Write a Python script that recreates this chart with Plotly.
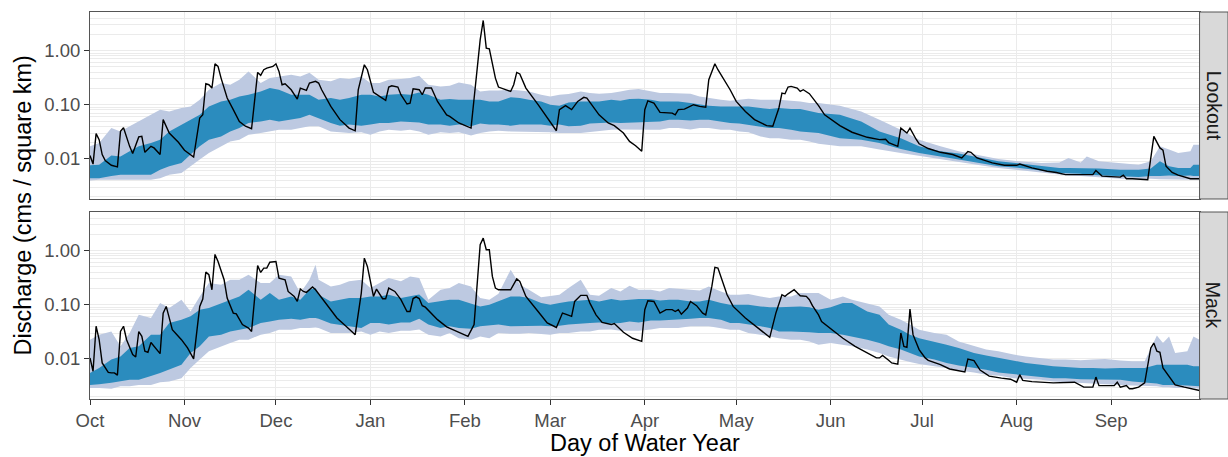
import pandas as pd
import plotly.graph_objects as go

WY_START = pd.Timestamp("2018-10-01")

# ---------------- Lookout ----------------
lookout_band_day = [0, 3, 7, 10, 13, 16, 20, 23, 26, 30, 33, 36, 39, 43, 46, 49, 52, 56, 59, 62, 66, 69, 72, 75, 79, 82, 85, 89, 92, 95, 98, 102, 105, 108,
                    111, 115, 118, 121, 125, 128, 131, 134, 138, 141, 144, 148, 151, 154, 157, 161, 164, 167, 171, 174, 177, 180, 184, 187, 190, 193, 197, 200, 203, 207, 210, 213, 216, 220, 223, 226, 230, 233, 236, 239,
                    246, 253, 259, 266, 272, 279, 285, 292, 298, 305, 312, 318, 321, 325, 327, 331, 338, 344, 348, 351, 354, 357, 361, 362, 364]
lookout_light_hi = [0.0170, 0.0196, 0.037, 0.032, 0.040, 0.049, 0.065, 0.081, 0.075, 0.087, 0.093, 0.124, 0.189, 0.251, 0.234, 0.289, 0.412, 0.251, 0.31, 0.333, 0.358, 0.333, 0.39, 0.289, 0.27, 0.31, 0.30, 0.333, 0.251, 0.251, 0.289, 0.30, 0.31, 0.343,
                    0.234, 0.218, 0.224, 0.257, 0.234, 0.176, 0.184, 0.184, 0.189, 0.184, 0.176, 0.153, 0.1425, 0.153, 0.157, 0.176, 0.164, 0.159, 0.164, 0.176, 0.189, 0.195, 0.176, 0.164, 0.164, 0.164, 0.159, 0.1425, 0.133, 0.124, 0.118, 0.124, 0.129, 0.124, 0.124, 0.124, 0.118, 0.115, 0.107, 0.107,
                    0.096, 0.075, 0.053, 0.0346, 0.0226, 0.017, 0.0138, 0.0115, 0.0099, 0.009, 0.0084, 0.0086, 0.0104, 0.0086, 0.0111, 0.009, 0.0084, 0.0078, 0.009, 0.017, 0.0148, 0.0128, 0.0138, 0.0183, 0.0183]
lookout_dark_hi = [0.0076, 0.0078, 0.0115, 0.0111, 0.0138, 0.017, 0.0196, 0.0226, 0.032, 0.043, 0.053, 0.065, 0.093, 0.115, 0.124, 0.1425, 0.153, 0.176, 0.203, 0.189, 0.153, 0.153, 0.153, 0.124, 0.133, 0.124, 0.133, 0.153, 0.153, 0.1425, 0.153, 0.157, 0.153, 0.169,
                   0.153, 0.124, 0.127, 0.124, 0.124, 0.124, 0.115, 0.115, 0.137, 0.133, 0.124, 0.115, 0.10, 0.096, 0.11, 0.115, 0.115, 0.115, 0.124, 0.118, 0.127, 0.129, 0.124, 0.115, 0.115, 0.115, 0.107, 0.10, 0.096, 0.093, 0.093, 0.093, 0.093, 0.087, 0.083, 0.087, 0.083, 0.083, 0.075, 0.070,
                   0.065, 0.049, 0.032, 0.024, 0.017, 0.0138, 0.0126, 0.0104, 0.009, 0.0082, 0.0073, 0.0068, 0.0068, 0.0068, 0.0068, 0.0066, 0.0063, 0.0063, 0.0066, 0.009, 0.0073, 0.0068, 0.0068, 0.0078, 0.0078]
lookout_dark_lo = [0.0044, 0.0044, 0.0048, 0.0051, 0.0051, 0.0051, 0.0051, 0.0063, 0.0073, 0.0084, 0.012, 0.017, 0.0226, 0.026, 0.032, 0.037, 0.046, 0.049, 0.053, 0.049, 0.053, 0.057, 0.065, 0.057, 0.046, 0.041, 0.043, 0.041, 0.043, 0.046, 0.046, 0.049, 0.048, 0.047,
                   0.043, 0.043, 0.041, 0.043, 0.040, 0.045, 0.043, 0.043, 0.041, 0.043, 0.043, 0.043, 0.041, 0.043, 0.040, 0.041, 0.045, 0.046, 0.047, 0.046, 0.047, 0.047, 0.048, 0.049, 0.053, 0.053, 0.051, 0.053, 0.053, 0.049, 0.046, 0.045, 0.043, 0.039, 0.037, 0.037, 0.0346, 0.032, 0.031, 0.030,
                   0.024, 0.0226, 0.0196, 0.0152, 0.0128, 0.0111, 0.0097, 0.0082, 0.0073, 0.0068, 0.0061, 0.0055, 0.0055, 0.0053, 0.0051, 0.0049, 0.0048, 0.0046, 0.0048, 0.0048, 0.0049, 0.0048, 0.0049, 0.0048, 0.0048]
lookout_light_lo = [0.0040, 0.0041, 0.0042, 0.0041, 0.0042, 0.0041, 0.0041, 0.0044, 0.0051, 0.0055, 0.0073, 0.0097, 0.0128, 0.017, 0.021, 0.0226, 0.028, 0.030, 0.032, 0.0346, 0.0346, 0.037, 0.040, 0.040, 0.032, 0.031, 0.030, 0.031, 0.028, 0.032, 0.0346, 0.033, 0.0346, 0.032,
                    0.028, 0.031, 0.030, 0.031, 0.027, 0.030, 0.032, 0.033, 0.032, 0.031, 0.031, 0.031, 0.031, 0.030, 0.030, 0.030, 0.032, 0.033, 0.0346, 0.035, 0.0346, 0.035, 0.0346, 0.0346, 0.037, 0.037, 0.035, 0.037, 0.037, 0.0346, 0.0346, 0.032, 0.031, 0.026, 0.024, 0.024, 0.0226, 0.0226, 0.021, 0.019,
                    0.017, 0.017, 0.0148, 0.0128, 0.0111, 0.0097, 0.0087, 0.0076, 0.0068, 0.0061, 0.0056, 0.0051, 0.0049, 0.0048, 0.0048, 0.0046, 0.0043, 0.0042, 0.0043, 0.0042, 0.0042, 0.0041, 0.0041, 0.0041, 0.0041]

lookout_line_day = [0, 1, 2, 3, 4, 5, 7, 9, 10, 11, 13, 14, 16, 17, 18, 20, 21, 23, 24, 26, 29, 31, 34, 36, 37, 38, 39, 40, 41, 42, 43, 45, 47, 49, 51, 53,
                    55, 56, 57, 58, 60, 61, 62, 63, 64, 66, 68, 69, 71, 72, 74, 75, 76, 79, 82, 85, 87, 88, 90, 91, 93, 94, 95, 97, 98, 99, 101, 102, 104, 105, 106, 108,
                    109, 110, 112, 114, 117, 118, 121, 125, 126, 128, 129, 130, 131, 133, 134, 138, 139, 140, 141, 143, 147, 150, 153, 154, 156, 158, 160, 162, 163, 167,
                    170, 172, 175, 177, 179, 181, 182, 183, 185, 187, 189, 191, 192, 193, 195, 198, 200, 202, 203, 205, 206, 210, 212, 215, 218, 222, 224, 226, 227, 228,
                    229, 230, 232, 233, 234, 236, 239, 241, 246, 250, 255, 259, 261, 262, 265, 266, 268, 269, 271, 272, 275, 279, 283, 286, 288, 289, 291, 296, 300, 304,
                    305, 309, 314, 317, 320, 329, 330, 332, 338, 339, 340, 342, 347, 348, 349, 351, 352, 353, 355, 357, 359, 361, 364]
lookout_line_q = [0.0115, 0.0080, 0.0292, 0.0226, 0.0120, 0.0093, 0.0076, 0.0071, 0.0322, 0.0375, 0.0170, 0.0125, 0.0254, 0.0261, 0.0132, 0.0170, 0.0159, 0.0120, 0.053, 0.030, 0.0202, 0.0144, 0.0108, 0.0568, 0.0654, 0.244, 0.234, 0.203, 0.57, 0.51, 0.31, 0.133, 0.081, 0.049, 0.040, 0.036,
                  0.395, 0.35, 0.443, 0.475, 0.51, 0.57, 0.412, 0.234, 0.244, 0.189, 0.127, 0.203, 0.184, 0.251, 0.27, 0.251, 0.189, 0.093, 0.053, 0.037, 0.033, 0.189, 0.547, 0.443, 0.169, 0.157, 0.1425, 0.12, 0.212, 0.224, 0.212, 0.153, 0.103, 0.107, 0.197, 0.189,
                  0.153, 0.203, 0.203, 0.115, 0.065, 0.061, 0.046, 0.037, 0.124, 1.58, 3.6, 1.11, 1.08, 0.31, 0.212, 0.176, 0.234, 0.395, 0.37, 0.203, 0.10, 0.057, 0.033, 0.081, 0.096, 0.081, 0.115, 0.137, 0.133, 0.065,
                  0.046, 0.041, 0.030, 0.021, 0.0175, 0.0138, 0.081, 0.118, 0.107, 0.072, 0.072, 0.070, 0.065, 0.081, 0.083, 0.10, 0.093, 0.090, 0.289, 0.57, 0.443, 0.189, 0.115, 0.075, 0.053, 0.041, 0.040, 0.087, 0.164, 0.159,
                  0.212, 0.218, 0.203, 0.176, 0.189, 0.16, 0.096, 0.065, 0.041, 0.031, 0.025, 0.0226, 0.023, 0.020, 0.017, 0.037, 0.030, 0.037, 0.023, 0.019, 0.0155, 0.0132, 0.012, 0.0104, 0.0136, 0.0132, 0.0104, 0.0084, 0.0076, 0.0076,
                  0.008, 0.0068, 0.0059, 0.0056, 0.0051, 0.0051, 0.0061, 0.0048, 0.0046, 0.005, 0.0043, 0.0043, 0.0041, 0.0111, 0.026, 0.0159, 0.0145, 0.0073, 0.0056, 0.005, 0.0046, 0.0043, 0.0043]

# ---------------- Mack ----------------
mack_band_day = [0, 3, 7, 10, 13, 16, 20, 23, 26, 30, 33, 36, 39, 43, 46, 49, 52, 56, 59, 62, 66, 69, 72, 74, 75, 79, 82, 85, 89, 92, 95, 98, 102, 105, 108,
                 111, 115, 118, 121, 125, 128, 131, 134, 138, 141, 144, 148, 151, 154, 157, 161, 164, 167, 171, 174, 177, 180, 184, 187, 190, 193, 197, 200, 203, 207, 210, 213, 216, 220, 223, 226, 230, 233, 236, 239,
                 243, 247, 250, 255, 259, 262, 266, 269, 272, 277, 281, 285, 290, 294, 298, 303, 307, 312, 316, 320, 325, 329, 333, 338, 342, 346, 350, 352, 354, 356, 360, 362, 364]
mack_light_hi = [0.0226, 0.028, 0.032, 0.017, 0.030, 0.065, 0.057, 0.107, 0.087, 0.124, 0.075, 0.1425, 0.251, 0.234, 0.289, 0.289, 0.358, 0.251, 0.251, 0.358, 0.333, 0.164, 0.289, 0.547, 0.289, 0.218, 0.234, 0.27, 0.289, 0.203, 0.251, 0.31, 0.27, 0.333, 0.31,
                 0.124, 0.189, 0.203, 0.251, 0.218, 0.133, 0.124, 0.159, 0.443, 0.234, 0.189, 0.137, 0.1425, 0.153, 0.203, 0.289, 0.153, 0.146, 0.203, 0.176, 0.224, 0.189, 0.189, 0.176, 0.203, 0.195, 0.189, 0.184, 0.218, 0.176, 0.153, 0.153, 0.157, 0.1425, 0.133, 0.1425, 0.1425, 0.164, 0.164, 0.164,
                 0.124, 0.1425, 0.124, 0.104, 0.093, 0.065, 0.053, 0.043, 0.0346, 0.030, 0.028, 0.021, 0.017, 0.0148, 0.0138, 0.012, 0.0111, 0.0104, 0.0097, 0.0097, 0.0094, 0.0097, 0.0099, 0.0093, 0.009, 0.009, 0.027, 0.0196, 0.026, 0.0128, 0.0138, 0.026, 0.0226]
mack_dark_hi = [0.0055, 0.0068, 0.0097, 0.0111, 0.0159, 0.017, 0.028, 0.028, 0.046, 0.053, 0.061, 0.081, 0.087, 0.107, 0.124, 0.1425, 0.189, 0.124, 0.164, 0.124, 0.1425, 0.124, 0.189, 0.203, 0.153, 0.115, 0.124, 0.133, 0.133, 0.1425, 0.1425, 0.153, 0.133, 0.1425, 0.155,
                0.107, 0.115, 0.124, 0.124, 0.107, 0.093, 0.10, 0.115, 0.1425, 0.1425, 0.133, 0.107, 0.10, 0.107, 0.115, 0.12, 0.124, 0.115, 0.127, 0.12, 0.124, 0.127, 0.127, 0.12, 0.124, 0.124, 0.115, 0.115, 0.124, 0.107, 0.10, 0.10, 0.10, 0.093, 0.09, 0.09, 0.093, 0.093, 0.09, 0.081,
                0.09, 0.107, 0.107, 0.075, 0.065, 0.043, 0.0346, 0.028, 0.024, 0.021, 0.0183, 0.0159, 0.0128, 0.0115, 0.0104, 0.009, 0.0084, 0.0078, 0.0073, 0.0071, 0.0068, 0.0068, 0.0066, 0.0068, 0.0068, 0.0068, 0.0078, 0.0078, 0.0078, 0.0078, 0.0078, 0.0073, 0.0073]
mack_dark_lo = [0.0033, 0.0034, 0.0036, 0.0038, 0.0041, 0.0041, 0.0048, 0.0055, 0.0063, 0.0078, 0.0128, 0.017, 0.026, 0.028, 0.032, 0.0346, 0.037, 0.046, 0.049, 0.053, 0.055, 0.053, 0.057, 0.057, 0.055, 0.045, 0.043, 0.040, 0.037, 0.046, 0.046, 0.043, 0.047, 0.047, 0.055,
                0.043, 0.037, 0.040, 0.037, 0.036, 0.040, 0.041, 0.043, 0.040, 0.041, 0.041, 0.041, 0.040, 0.041, 0.043, 0.045, 0.046, 0.047, 0.045, 0.046, 0.049, 0.047, 0.051, 0.051, 0.053, 0.053, 0.055, 0.057, 0.057, 0.053, 0.046, 0.046, 0.043, 0.040, 0.037, 0.032, 0.032, 0.032, 0.031, 0.030,
                0.030, 0.028, 0.026, 0.0226, 0.0196, 0.017, 0.0148, 0.0128, 0.0111, 0.0097, 0.0084, 0.0075, 0.0068, 0.0063, 0.0056, 0.0053, 0.0049, 0.0046, 0.0044, 0.0044, 0.0042, 0.0042, 0.0041, 0.0041, 0.0038, 0.0036, 0.0035, 0.0033, 0.0033, 0.0033, 0.0032, 0.0031, 0.0031]
mack_light_lo = [0.0029, 0.0029, 0.0028, 0.0031, 0.0031, 0.0033, 0.0033, 0.0037, 0.0038, 0.0044, 0.0068, 0.0097, 0.0138, 0.017, 0.0196, 0.0226, 0.0226, 0.028, 0.030, 0.0346, 0.0346, 0.037, 0.037, 0.038, 0.037, 0.030, 0.030, 0.030, 0.032, 0.028, 0.032, 0.030, 0.033, 0.033, 0.035,
                 0.028, 0.026, 0.030, 0.024, 0.0226, 0.026, 0.024, 0.030, 0.029, 0.029, 0.030, 0.029, 0.028, 0.030, 0.030, 0.032, 0.032, 0.0346, 0.035, 0.033, 0.033, 0.033, 0.035, 0.037, 0.037, 0.037, 0.040, 0.040, 0.040, 0.037, 0.0346, 0.0346, 0.030, 0.028, 0.026, 0.024, 0.0226, 0.0226, 0.021, 0.0183,
                 0.0196, 0.0183, 0.017, 0.0148, 0.0128, 0.0111, 0.0097, 0.0087, 0.008, 0.0073, 0.0068, 0.0061, 0.0056, 0.0051, 0.0049, 0.0044, 0.0042, 0.0041, 0.0038, 0.0037, 0.0036, 0.0035, 0.0034, 0.0033, 0.0032, 0.0031, 0.0031, 0.003, 0.003, 0.0029, 0.0029, 0.0029, 0.0028]

mack_line_day = [0, 1, 2, 3, 4, 6, 7, 8, 9, 10, 11, 12, 14, 15, 16, 17, 18, 19, 20, 21, 23, 24, 25, 26, 27, 30, 32, 34, 36, 37, 38, 39, 40, 41, 42, 44, 45, 47, 48, 50, 52, 53,
                 55, 56, 57, 58, 59, 61, 62, 64, 65, 67, 68, 69, 70, 71, 73, 74, 78, 81, 84, 87, 89, 90, 91, 93, 94, 96, 97, 98, 100, 102, 104, 105, 106, 107, 108,
                 109, 110, 114, 117, 119, 124, 126, 128, 129, 130, 131, 132, 133, 134, 138, 140, 141, 143, 147, 150, 153, 155, 156, 158, 159, 161, 163, 164, 166, 168,
                 171, 172, 175, 178, 181, 182, 183, 185, 187, 189, 191, 192, 193, 194, 196, 197, 199, 201, 202, 204, 205, 206, 209, 211, 215, 220, 223, 225, 227, 228,
                 229, 231, 232, 233, 235, 236, 237, 239, 240, 244, 247, 251, 255, 258, 259, 260, 262, 263, 265, 266, 267, 268, 269, 270, 272, 274, 275, 279, 282, 287,
                 288, 290, 292, 295, 299, 302, 304, 305, 306, 309, 316, 323, 326, 329, 330, 331, 336, 337, 338, 340, 341, 342, 344, 346, 348, 349, 350, 351, 352, 354,
                 356, 359, 361, 364]
mack_line_q = [0.0104, 0.0059, 0.040, 0.0226, 0.0084, 0.0056, 0.0055, 0.0055, 0.0050, 0.032, 0.040, 0.0226, 0.012, 0.0108, 0.032, 0.026, 0.0138, 0.0132, 0.020, 0.017, 0.0125, 0.070, 0.093, 0.057, 0.0346, 0.0226, 0.0159, 0.010, 0.093, 0.127, 0.40, 0.358, 0.189, 0.85, 0.63, 0.289, 0.133, 0.070, 0.068, 0.043, 0.037, 0.032,
               0.53, 0.395, 0.475, 0.475, 0.61, 0.63, 0.31, 0.289, 0.176, 0.1425, 0.115, 0.195, 0.176, 0.169, 0.212, 0.189, 0.093, 0.057, 0.040, 0.028, 0.164, 0.726, 0.51, 0.1425, 0.195, 0.129, 0.129, 0.203, 0.176, 0.124, 0.075, 0.075, 0.13, 0.14, 0.13,
               0.096, 0.090, 0.053, 0.039, 0.0346, 0.026, 0.043, 1.28, 1.70, 1.035, 1.035, 0.333, 0.203, 0.189, 0.189, 0.30, 0.27, 0.1425, 0.075, 0.046, 0.038, 0.070, 0.067, 0.061, 0.115, 0.149, 0.149, 0.107, 0.065, 0.047,
               0.043, 0.045, 0.031, 0.024, 0.021, 0.081, 0.118, 0.115, 0.070, 0.081, 0.081, 0.075, 0.081, 0.067, 0.087, 0.115, 0.096, 0.070, 0.065, 0.218, 0.49, 0.475, 0.153, 0.093, 0.057, 0.0346, 0.025, 0.070, 0.153, 0.1425,
               0.159, 0.189, 0.164, 0.146, 0.1425, 0.124, 0.096, 0.065, 0.049, 0.033, 0.024, 0.017, 0.0128, 0.0104, 0.0104, 0.0116, 0.0094, 0.0084, 0.0080, 0.030, 0.017, 0.0163, 0.083, 0.028, 0.0148, 0.0104, 0.0094, 0.0078, 0.0065, 0.0057,
               0.0099, 0.0093, 0.0062, 0.0048, 0.0044, 0.0042, 0.0037, 0.0051, 0.0040, 0.0038, 0.0036, 0.0037, 0.0030, 0.0030, 0.0046, 0.0032, 0.0032, 0.0037, 0.0030, 0.0032, 0.0028, 0.0028, 0.0030, 0.0036, 0.0159, 0.0196, 0.0138, 0.0132, 0.0068, 0.0048,
               0.0033, 0.0030, 0.0028, 0.0026]

sites = ["Lookout", "Mack"]
y_tick_vals = [0.01, 0.1, 1.0]
y_tick_text = ["0.01", "0.10", "1.00"]
LIGHT = "#BDC9E1"
DARK = "#2B8CBE"
FONT = "Liberation Sans, Arial, sans-serif"


def to_dates(days):
    return [WY_START + pd.Timedelta(days=int(d)) for d in days]


def band(days, hi, lo, color, yaxis):
    d = to_dates(days)
    return go.Scatter(x=d + d[::-1], y=list(hi) + list(lo)[::-1], fill="toself",
                      fillcolor=color, line=dict(width=0), mode="lines",
                      hoverinfo="skip", showlegend=False, xaxis="x" if yaxis == "y" else "x2", yaxis=yaxis)


fig = go.Figure()
panels = [
    ("y", lookout_band_day, lookout_light_hi, lookout_dark_hi, lookout_dark_lo, lookout_light_lo, lookout_line_day, lookout_line_q),
    ("y2", mack_band_day, mack_light_hi, mack_dark_hi, mack_dark_lo, mack_light_lo, mack_line_day, mack_line_q),
]
for ya, bd, lh, dh, dl, ll, ld, lq in panels:
    fig.add_trace(band(bd, lh, ll, LIGHT, ya))
    fig.add_trace(band(bd, dh, dl, DARK, ya))
    fig.add_trace(go.Scatter(x=to_dates(ld), y=lq, mode="lines",
                             line=dict(color="black", width=1.4),
                             showlegend=False, xaxis="x" if ya == "y" else "x2", yaxis=ya))

XD = [0, 0.9750]
TOP = [0.5168, 1.0]
BOT = [0.0, 0.4832]
x_range = [WY_START, WY_START + pd.Timedelta(days=364)]

common_x = dict(type="date", range=x_range, dtick="M1", tick0="2018-10-01", tickformat="%b",
                showgrid=True, gridcolor="#EBEBEB", gridwidth=1.1, zeroline=False,
                showline=True, mirror=True, linecolor="#555555", linewidth=1,
                domain=XD, tickfont=dict(family=FONT, size=18.5, color="#4D4D4D"))
common_y = dict(type="log", range=[-2.742, 0.713], tickmode="array", tickvals=y_tick_vals, ticktext=y_tick_text,
                showgrid=True, gridcolor="#EBEBEB", gridwidth=1.1, zeroline=False,
                minor=dict(tickmode="linear", dtick="D1", showgrid=True, gridcolor="#EBEBEB", gridwidth=0.8, ticks=""),
                showline=True, mirror=True, linecolor="#555555", linewidth=1,
                ticks="outside", ticklen=5, tickcolor="#333333",
                tickfont=dict(family=FONT, size=18.5, color="#4D4D4D"))

fig.update_layout(
    width=1228, height=457,
    margin=dict(l=90, r=0, t=12, b=58),
    paper_bgcolor="white", plot_bgcolor="white",
    showlegend=False,
    xaxis=dict(common_x, anchor="y", showticklabels=False, ticks=""),
    xaxis2=dict(common_x, anchor="y2", matches="x", ticks="outside", ticklen=5, tickcolor="#333333"),
    yaxis=dict(common_y, domain=TOP, anchor="x"),
    yaxis2=dict(common_y, domain=BOT, anchor="x2"),
)

shapes = []
annotations = []
for site, dom in zip(sites, [TOP, BOT]):
    shapes.append(dict(type="rect", xref="paper", yref="paper", x0=XD[1], x1=1.0, y0=dom[0], y1=dom[1],
                       fillcolor="#D9D9D9", line=dict(color="#555555", width=1), layer="above"))
    annotations.append(dict(text=site, xref="paper", yref="paper", x=(XD[1] + 1.0) / 2, y=(dom[0] + dom[1]) / 2,
                            textangle=90, showarrow=False, xanchor="center", yanchor="middle",
                            font=dict(family=FONT, size=19.5, color="#1A1A1A")))

annotations.append(dict(text="Discharge (cms / square km)", xref="paper", yref="paper",
                        x=-0.0589, y=0.5, textangle=-90, showarrow=False, xanchor="center", yanchor="middle",
                        font=dict(family=FONT, size=23.5, color="black")))
annotations.append(dict(text="Day of Water Year", xref="paper", yref="paper",
                        x=XD[1] / 2, y=-0.113, showarrow=False, xanchor="center", yanchor="middle",
                        font=dict(family=FONT, size=23.5, color="black")))
fig.update_layout(shapes=shapes, annotations=annotations)

fig.write_html("out.html")
